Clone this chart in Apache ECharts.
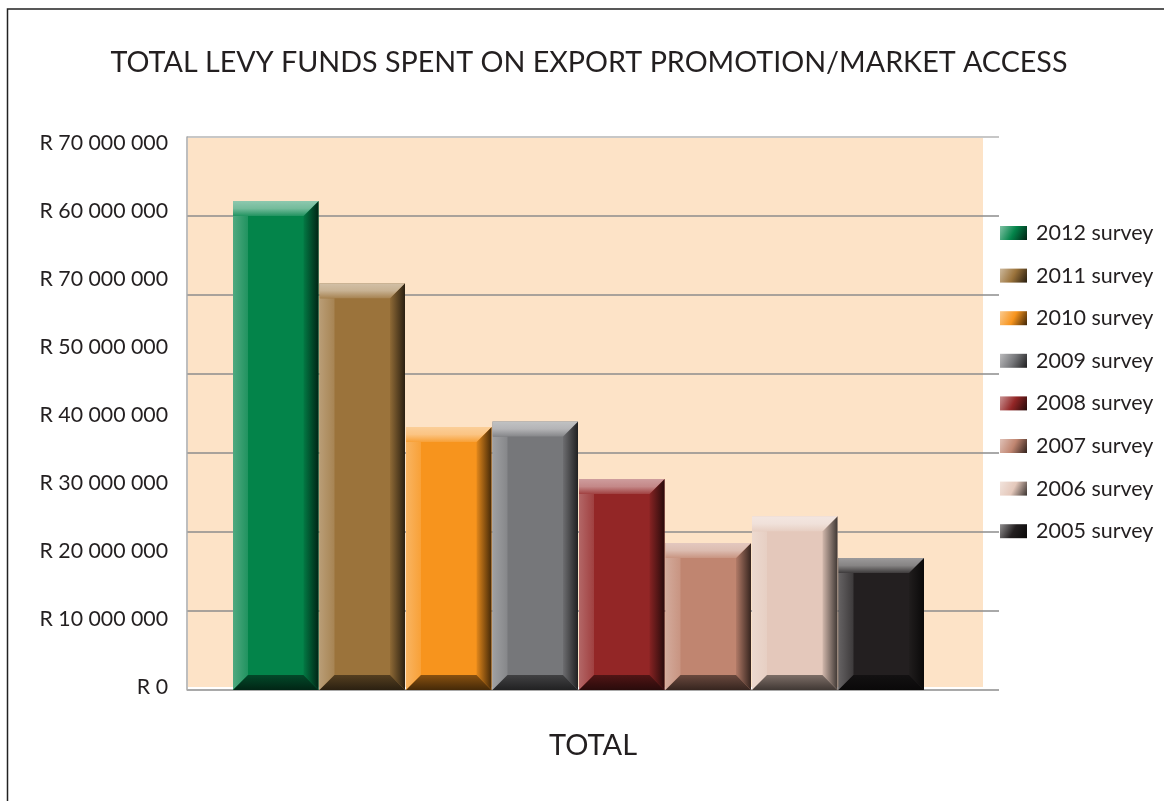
<!DOCTYPE html>
<html>
<head>
<meta charset="utf-8">
<title>Total levy funds spent on export promotion/market access</title>
<script src="https://cdn.jsdelivr.net/npm/echarts@6/dist/echarts.min.js"></script>
<style>
  html, body { margin: 0; padding: 0; background: #fff; }
  #chart { width: 1164px; height: 801px; }
</style>
</head>
<body>
<div id="chart"></div>
<script>
var categories = ['TOTAL'];
var surveys = ['2012 survey', '2011 survey', '2010 survey', '2009 survey',
               '2008 survey', '2007 survey', '2006 survey', '2005 survey'];
var spent = [61900000, 51500000, 33300000, 34000000, 26700000, 18600000, 22000000, 16700000];
var baseColors = ['#03844a', '#9b733b', '#f7941d', '#76777a', '#932626', '#c08570', '#e4c8bb', '#231f20'];
// the reference prints these labels as they are (odd order included)
var yTickLabels = ['R 0', 'R 10 000 000', 'R 20 000 000', 'R 30 000 000', 'R 40 000 000',
                   'R 50 000 000', 'R 70 000 000', 'R 60 000 000', 'R 70 000 000'];

var FONT = 'Lato';
var TEXT = '#231f20';
var BAR_W = 85.5, BAR_STEP = 86.5, BEVEL = 15;

function mix(hex, target, t) {
  var n = parseInt(hex.slice(1), 16);
  var rgb = [(n >> 16) & 255, (n >> 8) & 255, n & 255];
  var out = rgb.map(function (v) { return Math.round(v + (target - v) * t); });
  return 'rgb(' + out.join(',') + ')';
}
function lin(x, y, x2, y2, colors) {
  return new echarts.graphic.LinearGradient(x, y, x2, y2, colors.map(function (c, i) {
    return { offset: i / (colors.length - 1), color: c };
  }));
}

function bevelBar(idx) {
  return function (params, api) {
    var top = api.coord([api.value(0), api.value(1)]);
    var zero = api.coord([api.value(0), 0]);
    var cx = top[0] + (idx - 3.5) * BAR_STEP;
    var x0 = cx - BAR_W / 2, x1 = cx + BAR_W / 2, y0 = top[1], y1 = zero[1];
    var b = BEVEL;
    var c = baseColors[idx];
    return {
      type: 'group',
      children: [
        { type: 'rect', shape: { x: x0, y: y0, width: x1 - x0, height: y1 - y0 }, style: { fill: c } },
        { type: 'polygon', shape: { points: [[x0, y0 + b], [x0 + b, y0 + b], [x0 + b, y1 - b], [x0, y1]] },
          style: { fill: lin(0, 0, 1, 0, [mix(c, 255, 0.3), mix(c, 255, 0.12)]) } },
        { type: 'polygon', shape: { points: [[x1, y0], [x1, y1], [x1 - b, y1 - b], [x1 - b, y0 + b]] },
          style: { fill: lin(0, 0, 1, 0, [mix(c, 0, 0.08), mix(c, 0, 0.72)]) } },
        { type: 'polygon', shape: { points: [[x0, y0], [x1, y0], [x1 - b, y0 + b], [x0, y0 + b]] },
          style: { fill: lin(0, 0, 0, 1, [mix(c, 255, 0.55), mix(c, 255, 0.45), mix(c, 255, 0.12)]) } },
        { type: 'polygon', shape: { points: [[x0, y1], [x1, y1], [x1 - b, y1 - b], [x0 + b, y1 - b]] },
          style: { fill: lin(0, 0, 0, 1, [mix(c, 0, 0.45), mix(c, 0, 0.72)]) } }
      ]
    };
  };
}

var series = surveys.map(function (name, i) {
  return {
    name: name,
    type: 'custom',
    xAxisIndex: 2,
    yAxisIndex: 2,
    renderItem: bevelBar(i),
    encode: { x: 0, y: 1 },
    itemStyle: { color: lin(0, 0, 1, 1, [mix(baseColors[i], 255, 0.5), baseColors[i], mix(baseColors[i], 0, 0.75)]) },
    data: [[0, spent[i]]]
  };
});

var gridLineColors = ['#8c8c8c', '#8c8c8c', '#8c8c8c', '#8c8c8c', '#8c8c8c', '#8c8c8c', '#8c8c8c', '#b4b4b4'];

var option = {
  backgroundColor: '#fff',
  textStyle: { fontFamily: FONT, color: TEXT },
  title: {
    text: 'TOTAL LEVY FUNDS SPENT ON EXPORT PROMOTION/MARKET ACCESS',
    left: 584, top: 43, textAlign: 'center',
    textStyle: { fontFamily: FONT, fontSize: 28.7, fontWeight: 'normal', color: TEXT }
  },
  graphic: [{
    type: 'polyline', silent: true,
    shape: { points: [[7.5, 801], [7.5, 9], [1164, 9]] },
    style: { stroke: '#222', lineWidth: 1.5, fill: null }
  }],
  legend: {
    orient: 'vertical', left: 995, top: 217,
    itemWidth: 27, itemHeight: 14, itemGap: 20.6,
    icon: 'rect',
    data: surveys,
    textStyle: { fontFamily: FONT, fontSize: 21.5, lineHeight: 22, color: TEXT, padding: [0, 0, 0, 4] }
  },
  grid: [
    { left: 188, right: 181, top: 138, bottom: 114, show: true, backgroundColor: '#fde3c7', borderWidth: 0 },
    { left: 187, right: 165, top: 137, bottom: 111 },
    { left: 187, right: 194, top: 137, bottom: 111 },
    { left: 187, right: 165, top: 143, bottom: 114 }
  ],
  xAxis: [
    { gridIndex: 0, type: 'category', data: categories, show: false },
    { gridIndex: 1, type: 'category', data: categories,
      axisLine: { show: false }, axisTick: { show: false },
      axisLabel: { margin: 41, fontFamily: FONT, fontSize: 29, color: TEXT } },
    { gridIndex: 2, type: 'category', data: categories, show: false },
    { gridIndex: 3, type: 'category', data: categories, show: false }
  ],
  yAxis: [
    { gridIndex: 0, type: 'value', show: false },
    { gridIndex: 1, type: 'value', min: 0, max: 70000000, interval: 10000000,
      axisLabel: { show: false }, axisTick: { show: false },
      axisLine: { show: true, lineStyle: { color: '#a8a8a8', width: 1.5 } },
      splitLine: { lineStyle: { color: gridLineColors, width: 1.5 } } },
    { gridIndex: 2, type: 'value', min: 0, max: 70000000, show: false },
    { gridIndex: 3, type: 'value', min: 0, max: 8, interval: 1,
      axisLine: { show: false }, axisTick: { show: false }, splitLine: { show: false },
      axisLabel: { margin: 19, fontFamily: FONT, fontSize: 21.3, color: TEXT,
        formatter: function (v) { return yTickLabels[v]; } } }
  ],
  series: series
};

var chart = echarts.init(document.getElementById('chart'));
chart.setOption(option);
</script>
</body>
</html>
